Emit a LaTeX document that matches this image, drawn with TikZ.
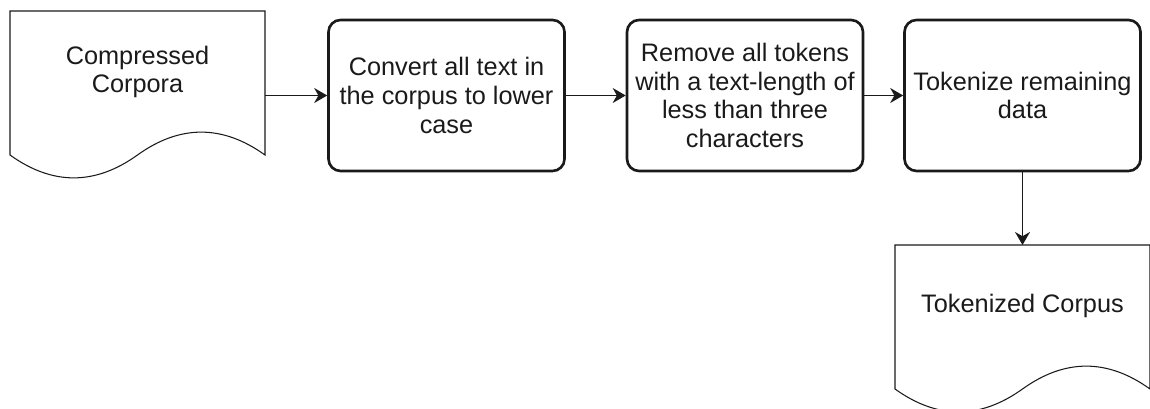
\documentclass[tikz,border=0pt]{standalone}
\usepackage{fontspec}
\setmainfont{Liberation Sans}
\usetikzlibrary{arrows.meta,calc}
\definecolor{ink}{HTML}{1A1A1A}
\tikzset{>={Stealth[length=2.6mm,width=3mm]},
  every node/.style={font=\fontsize{14.4}{16.3}\selectfont,text=ink,align=center},
  stepbox/.style={draw=ink,line width=1.5pt,rounded corners=2.4mm,
    minimum width=4.72cm,minimum height=3.02cm,inner sep=1pt},
  docbox/.style={minimum width=5.1cm,minimum height=2.44cm,outer sep=0pt,inner sep=0pt},
  docline/.style={draw=ink,line width=.6pt},
  flow/.style={->,draw=ink,line width=.85pt}}

\begin{document}
\begin{tikzpicture}
\useasboundingbox (0,0) rectangle (23,-8.18);
\node[docbox] (src) at (2.75,-1.44) {Compressed\\Corpora};
\node[stepbox] (b1) at (8.93,-1.91) {Convert all text in\\the corpus to lower\\case};
\node[stepbox] (b2) at (14.9,-1.91) {Remove all tokens\\with a text-length of\\less than three\\characters};
\node[stepbox] (b3) at (20.45,-1.91) {Tokenize remaining\\data};
\node[docbox] (out) at (20.45,-6.12) {Tokenized Corpus};
% document outlines with wavy bottom
\foreach \d in {src,out}{
  \draw[docline] (\d.north west) -- (\d.north east) -- ([yshift=-.44cm]\d.south east)
    .. controls ($(\d.south west)!5/6!(\d.south east)+(0,.17)$) and ($(\d.south west)!2/3!(\d.south east)+(0,.17)$) .. ([yshift=-.44cm]\d.south)
    .. controls ($(\d.south west)!1/3!(\d.south east)+(0,-1.05)$) and ($(\d.south west)!1/6!(\d.south east)+(0,-1.05)$) .. ([yshift=-.44cm]\d.south west)
    -- cycle;
}
\draw[flow] (b1.west -| src.east) -- (b1.west);
\draw[flow] (b1) -- (b2);
\draw[flow] (b2) -- (b3);
\draw[flow] (b3) -- (out);
\end{tikzpicture}
\end{document}
